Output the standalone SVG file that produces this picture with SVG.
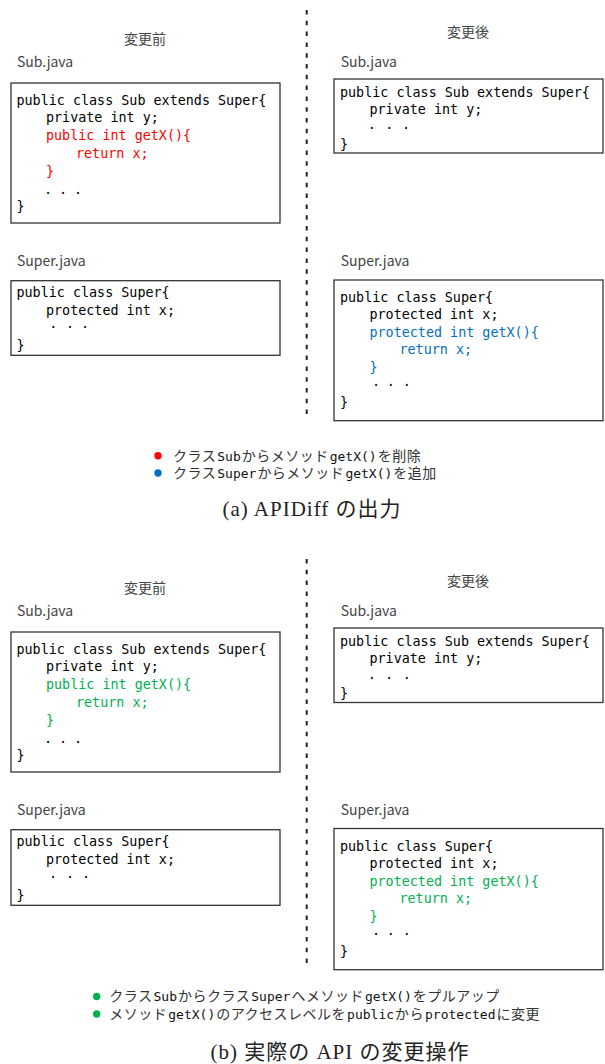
<svg xmlns="http://www.w3.org/2000/svg" width="605" height="1064" viewBox="0 0 605 1064">
<style>
.box{fill:#fff;stroke:#333;stroke-width:1.3}
.code{font-family:"DejaVu Sans Mono","Liberation Mono",monospace;font-size:13.4px;fill:#000}
.lbl{font-family:"Noto Sans CJK JP","Noto Sans",sans-serif;font-size:14px;fill:#444}
.red{fill:#ff0000}
.blue{fill:#0070c0}
.green{fill:#00b050}
.leg{font-family:"Noto Sans CJK JP","Noto Sans",sans-serif;font-size:14px;fill:#333;letter-spacing:0.5px}
.mono{font-family:"DejaVu Sans Mono","Liberation Mono",monospace;font-size:13px;fill:#111;letter-spacing:0}
.cap{font-family:"Liberation Serif","Noto Sans CJK JP",serif;font-size:21px;fill:#222;letter-spacing:1px}
.div{stroke:#222;stroke-width:2;stroke-dasharray:4.5 6.3;fill:none}
</style>
<rect width="605" height="1064" fill="#fff"/>

<g id="connectors">
  <line class="div" x1="306.7" y1="10" x2="306.7" y2="415"/>
  <line class="div" x1="306.7" y1="559" x2="306.7" y2="964"/>
</g>

<!-- (a) -->
<g id="a-headers">
  <text class="lbl" x="145" y="43.5" text-anchor="middle">変更前</text>
  <text class="lbl" x="468" y="37" text-anchor="middle">変更後</text>
</g>

<g id="a-before-sub">
  <text class="lbl" x="17" y="67">Sub.java</text>
  <rect class="box" x="11" y="83" width="269" height="140"/>
  <text class="code" x="16.5" y="104.5">public class Sub extends Super{</text>
  <text class="code" x="46" y="122">private int y;</text>
  <text class="code red" x="46" y="140">public int getX(){</text>
  <text class="code red" x="76" y="157.5">return x;</text>
  <text class="code red" x="46" y="175.5">}</text>
  <text class="code" x="44 59 74" y="194">...</text>
  <text class="code" x="16.5" y="211">}</text>
</g>

<g id="a-after-sub">
  <text class="lbl" x="340.7" y="67">Sub.java</text>
  <rect class="box" x="334" y="79" width="269" height="74"/>
  <text class="code" x="340" y="96.5">public class Sub extends Super{</text>
  <text class="code" x="369.5" y="114">private int y;</text>
  <text class="code" x="367.7 385.3 402" y="128.7">...</text>
  <text class="code" x="340" y="149">}</text>
</g>

<g id="a-before-super">
  <text class="lbl" x="17" y="265.7">Super.java</text>
  <rect class="box" x="11" y="280.7" width="269" height="74.6"/>
  <text class="code" x="16.5" y="297.3">public class Super{</text>
  <text class="code" x="46" y="314.5">protected int x;</text>
  <text class="code" x="49.3 66 81" y="328.3">...</text>
  <text class="code" x="16.5" y="350">}</text>
</g>

<g id="a-after-super">
  <text class="lbl" x="340.7" y="265.7">Super.java</text>
  <rect class="box" x="334" y="280" width="269" height="140.7"/>
  <text class="code" x="340" y="301.5">public class Super{</text>
  <text class="code" x="369.5" y="319">protected int x;</text>
  <text class="code blue" x="369.5" y="336.5">protected int getX(){</text>
  <text class="code blue" x="399.5" y="354">return x;</text>
  <text class="code blue" x="369.5" y="372">}</text>
  <text class="code" x="372 386.7 402.7" y="386">...</text>
  <text class="code" x="340" y="407">}</text>
</g>

<g id="a-legend">
  <circle cx="158" cy="455.7" r="3.7" fill="#ff0000"/>
  <circle cx="158" cy="473" r="3.7" fill="#0070c0"/>
  <text class="leg" x="173" y="460.5">クラス<tspan class="mono" dx="1">Sub</tspan><tspan dx="1">からメソッド</tspan><tspan class="mono" dx="1">getX()</tspan><tspan dx="1">を削除</tspan></text>
  <text class="leg" x="173" y="478">クラス<tspan class="mono" dx="1">Super</tspan><tspan dx="1">からメソッド</tspan><tspan class="mono" dx="1">getX()</tspan><tspan dx="1">を追加</tspan></text>
</g>
<text id="a-caption" class="cap" x="312" y="516" text-anchor="middle">(a) APIDiff の出力</text>

<!-- (b) -->
<g id="b-headers">
  <text class="lbl" x="145" y="592.5" text-anchor="middle">変更前</text>
  <text class="lbl" x="468" y="586" text-anchor="middle">変更後</text>
</g>

<g id="b-before-sub">
  <text class="lbl" x="17" y="616">Sub.java</text>
  <rect class="box" x="11" y="632" width="269" height="140"/>
  <text class="code" x="16.5" y="653.5">public class Sub extends Super{</text>
  <text class="code" x="46" y="671">private int y;</text>
  <text class="code green" x="46" y="689">public int getX(){</text>
  <text class="code green" x="76" y="706.5">return x;</text>
  <text class="code green" x="46" y="724.5">}</text>
  <text class="code" x="44 59 74" y="743">...</text>
  <text class="code" x="16.5" y="760">}</text>
</g>

<g id="b-after-sub">
  <text class="lbl" x="340.7" y="616">Sub.java</text>
  <rect class="box" x="334" y="628" width="269" height="74.5"/>
  <text class="code" x="340" y="645.5">public class Sub extends Super{</text>
  <text class="code" x="369.5" y="663">private int y;</text>
  <text class="code" x="367.7 385 402.7" y="678.5">...</text>
  <text class="code" x="340" y="698">}</text>
</g>

<g id="b-before-super">
  <text class="lbl" x="17" y="814.7">Super.java</text>
  <rect class="box" x="11" y="829.7" width="269" height="75.6"/>
  <text class="code" x="16.5" y="846.3">public class Super{</text>
  <text class="code" x="46" y="863.5">protected int x;</text>
  <text class="code" x="49 66 82" y="878.3">...</text>
  <text class="code" x="16.5" y="899.5">}</text>
</g>

<g id="b-after-super">
  <text class="lbl" x="340.7" y="814.7">Super.java</text>
  <rect class="box" x="334" y="828.5" width="269" height="141.2"/>
  <text class="code" x="340" y="850.5">public class Super{</text>
  <text class="code" x="369.5" y="868">protected int x;</text>
  <text class="code green" x="369.5" y="885.5">protected int getX(){</text>
  <text class="code green" x="399.5" y="903">return x;</text>
  <text class="code green" x="369.5" y="921">}</text>
  <text class="code" x="372 386.7 402.7" y="935.3">...</text>
  <text class="code" x="340" y="956">}</text>
</g>

<g id="b-legend">
  <circle cx="96.7" cy="996.5" r="3.7" fill="#00b050"/>
  <circle cx="96.7" cy="1014" r="3.7" fill="#00b050"/>
  <text class="leg" x="109.3" y="1001.3">クラス<tspan class="mono" dx="1">Sub</tspan><tspan dx="1">からクラス</tspan><tspan class="mono" dx="1">Super</tspan><tspan dx="1">へメソッド</tspan><tspan class="mono" dx="1">getX()</tspan><tspan dx="1">をプルアップ</tspan></text>
  <text class="leg" x="109.3" y="1018.8">メソッド<tspan class="mono" dx="1">getX()</tspan><tspan dx="1">のアクセスレベルを</tspan><tspan class="mono" dx="1">public</tspan><tspan dx="1">から</tspan><tspan class="mono" dx="1">protected</tspan><tspan dx="1">に変更</tspan></text>
</g>
<text id="b-caption" class="cap" x="340" y="1059" text-anchor="middle">(b) 実際の API の変更操作</text>
</svg>
